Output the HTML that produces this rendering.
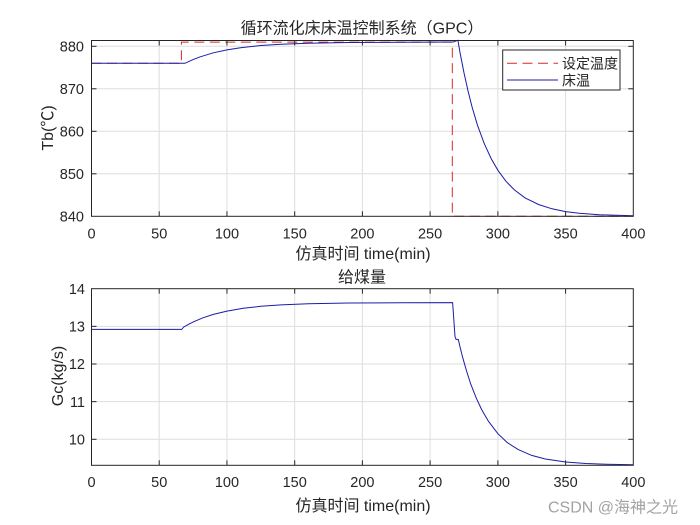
<!DOCTYPE html>
<html>
<head>
<meta charset="utf-8">
<style>
html,body{margin:0;padding:0;background:#fff;}
svg{display:block;}
text{font-family:"Liberation Sans","Noto Sans CJK SC",sans-serif;fill:#262626;}
</style>
</head>
<body>
<svg width="700" height="525" viewBox="0 0 700 525" xmlns="http://www.w3.org/2000/svg">
<rect x="0" y="0" width="700" height="525" fill="#fff"/>

<!-- ===== TOP AXES ===== -->
<g stroke="#dedede" stroke-width="1" fill="none">
  <line x1="159.2" y1="40.5" x2="159.2" y2="216.3"/>
  <line x1="226.95" y1="40.5" x2="226.95" y2="216.3"/>
  <line x1="294.7" y1="40.5" x2="294.7" y2="216.3"/>
  <line x1="362.4" y1="40.5" x2="362.4" y2="216.3"/>
  <line x1="430.1" y1="40.5" x2="430.1" y2="216.3"/>
  <line x1="497.9" y1="40.5" x2="497.9" y2="216.3"/>
  <line x1="565.6" y1="40.5" x2="565.6" y2="216.3"/>
  <line x1="91.5" y1="173.8" x2="633.3" y2="173.8"/>
  <line x1="91.5" y1="131.3" x2="633.3" y2="131.3"/>
  <line x1="91.5" y1="88.8" x2="633.3" y2="88.8"/>
  <line x1="91.5" y1="46.3" x2="633.3" y2="46.3"/>
</g>

<!-- setpoint -->
<polyline fill="none" stroke="#d42a2a" stroke-width="1" stroke-dasharray="10 5.5"
  points="91.5,63.3 181.4,63.3 181.4,42.1 452.3,42.1 452.3,216.3 633.3,216.3"/>
<!-- temperature -->
<polyline fill="none" stroke="#1c1ca8" stroke-width="1"
  points="91.5,63.3 184.96,63.3 193.09,59.56 199.86,56.93 213.4,52.8 226.95,49.87 240.5,47.7 260.8,45.54 281.1,44.2 308.2,43.2 348.9,42.5 403.0,42.2 453.1,42.05 457.9,40.3 459.9,52.0 464.0,72.9 468.1,91.2 472.1,107.1 477.5,125.3 484.3,143.7 491.1,158.5 497.9,170.3 506.0,181.3 514.1,189.6 524.9,197.8 538.5,204.5 552.0,208.8 565.6,211.6 579.1,213.3 599.4,214.8 633.3,215.8"/>

<!-- ticks top axes -->
<g stroke="#262626" stroke-width="1">
  <line x1="159.2" y1="216.3" x2="159.2" y2="211.3"/><line x1="159.2" y1="40.5" x2="159.2" y2="45.5"/>
  <line x1="226.95" y1="216.3" x2="226.95" y2="211.3"/><line x1="226.95" y1="40.5" x2="226.95" y2="45.5"/>
  <line x1="294.7" y1="216.3" x2="294.7" y2="211.3"/><line x1="294.7" y1="40.5" x2="294.7" y2="45.5"/>
  <line x1="362.4" y1="216.3" x2="362.4" y2="211.3"/><line x1="362.4" y1="40.5" x2="362.4" y2="45.5"/>
  <line x1="430.1" y1="216.3" x2="430.1" y2="211.3"/><line x1="430.1" y1="40.5" x2="430.1" y2="45.5"/>
  <line x1="497.9" y1="216.3" x2="497.9" y2="211.3"/><line x1="497.9" y1="40.5" x2="497.9" y2="45.5"/>
  <line x1="565.6" y1="216.3" x2="565.6" y2="211.3"/><line x1="565.6" y1="40.5" x2="565.6" y2="45.5"/>
  <line x1="91.5" y1="173.8" x2="96.5" y2="173.8"/><line x1="633.3" y1="173.8" x2="628.3" y2="173.8"/>
  <line x1="91.5" y1="131.3" x2="96.5" y2="131.3"/><line x1="633.3" y1="131.3" x2="628.3" y2="131.3"/>
  <line x1="91.5" y1="88.8" x2="96.5" y2="88.8"/><line x1="633.3" y1="88.8" x2="628.3" y2="88.8"/>
  <line x1="91.5" y1="46.3" x2="96.5" y2="46.3"/><line x1="633.3" y1="46.3" x2="628.3" y2="46.3"/>
</g>
<rect x="91.5" y="40.5" width="541.8" height="175.8" fill="none" stroke="#262626" stroke-width="1"/>

<!-- legend -->
<rect x="502.7" y="50" width="117.3" height="40" fill="#fff" stroke="#262626" stroke-width="1"/>
<line x1="507" y1="63.3" x2="558" y2="63.3" stroke="#d42a2a" stroke-width="1" stroke-dasharray="10 5.5"/>
<line x1="507" y1="80" x2="558" y2="80" stroke="#1c1ca8" stroke-width="1"/>
<text x="562" y="68.5" font-size="14">设定温度</text>
<text x="562" y="85.5" font-size="14">床温</text>

<!-- top tick labels -->
<g font-size="14.5" text-anchor="middle">
  <text x="91.5" y="238.5">0</text>
  <text x="159.2" y="238.5">50</text>
  <text x="226.95" y="238.5">100</text>
  <text x="294.7" y="238.5">150</text>
  <text x="362.4" y="238.5">200</text>
  <text x="430.1" y="238.5">250</text>
  <text x="497.9" y="238.5">300</text>
  <text x="565.6" y="238.5">350</text>
  <text x="633.3" y="238.5">400</text>
</g>
<g font-size="14.5" text-anchor="end">
  <text x="84" y="221.5">840</text>
  <text x="84" y="179">850</text>
  <text x="84" y="136.5">860</text>
  <text x="84" y="94">870</text>
  <text x="84" y="51.5">880</text>
</g>
<text x="362" y="33.5" font-size="16" text-anchor="middle">循环流化床床温控制系统（GPC）</text>
<text x="363" y="259" font-size="16" text-anchor="middle">仿真时间 time(min)</text>
<text transform="translate(53,128) rotate(-90)" font-size="16" text-anchor="middle">Tb(℃)</text>

<!-- ===== BOTTOM AXES ===== -->
<g stroke="#dedede" stroke-width="1" fill="none">
  <line x1="159.2" y1="288.7" x2="159.2" y2="465.3"/>
  <line x1="226.95" y1="288.7" x2="226.95" y2="465.3"/>
  <line x1="294.7" y1="288.7" x2="294.7" y2="465.3"/>
  <line x1="362.4" y1="288.7" x2="362.4" y2="465.3"/>
  <line x1="430.1" y1="288.7" x2="430.1" y2="465.3"/>
  <line x1="497.9" y1="288.7" x2="497.9" y2="465.3"/>
  <line x1="565.6" y1="288.7" x2="565.6" y2="465.3"/>
  <line x1="91.5" y1="439.3" x2="633.3" y2="439.3"/>
  <line x1="91.5" y1="401.65" x2="633.3" y2="401.65"/>
  <line x1="91.5" y1="364.0" x2="633.3" y2="364.0"/>
  <line x1="91.5" y1="326.35" x2="633.3" y2="326.35"/>
</g>

<polyline fill="none" stroke="#1c1ca8" stroke-width="1"
  points="91.5,329.4 181.7,329.4 183.6,327.1 189.0,324.05 194.4,321.4 202.6,317.96 213.4,314.4 227.0,311.1 243.2,308.3 260.8,306.3 281.1,304.9 308.2,303.8 348.9,303.0 403.0,302.7 452.6,302.6 453.5,315 455,336.7 456,339.3 458.3,339.5 459.9,346.4 462.6,357.2 466.7,371.5 470.7,383.9 476.2,397.9 481.6,409.5 488.4,421.2 497.9,433.7 507.3,442.6 518.2,449.6 531.7,455.4 545.3,459.0 565.6,462.0 585.9,463.5 606.2,464.2 633.3,464.7"/>

<g stroke="#262626" stroke-width="1">
  <line x1="159.2" y1="465.3" x2="159.2" y2="460.3"/><line x1="159.2" y1="288.7" x2="159.2" y2="293.7"/>
  <line x1="226.95" y1="465.3" x2="226.95" y2="460.3"/><line x1="226.95" y1="288.7" x2="226.95" y2="293.7"/>
  <line x1="294.7" y1="465.3" x2="294.7" y2="460.3"/><line x1="294.7" y1="288.7" x2="294.7" y2="293.7"/>
  <line x1="362.4" y1="465.3" x2="362.4" y2="460.3"/><line x1="362.4" y1="288.7" x2="362.4" y2="293.7"/>
  <line x1="430.1" y1="465.3" x2="430.1" y2="460.3"/><line x1="430.1" y1="288.7" x2="430.1" y2="293.7"/>
  <line x1="497.9" y1="465.3" x2="497.9" y2="460.3"/><line x1="497.9" y1="288.7" x2="497.9" y2="293.7"/>
  <line x1="565.6" y1="465.3" x2="565.6" y2="460.3"/><line x1="565.6" y1="288.7" x2="565.6" y2="293.7"/>
  <line x1="91.5" y1="439.3" x2="96.5" y2="439.3"/><line x1="633.3" y1="439.3" x2="628.3" y2="439.3"/>
  <line x1="91.5" y1="401.65" x2="96.5" y2="401.65"/><line x1="633.3" y1="401.65" x2="628.3" y2="401.65"/>
  <line x1="91.5" y1="364.0" x2="96.5" y2="364.0"/><line x1="633.3" y1="364.0" x2="628.3" y2="364.0"/>
  <line x1="91.5" y1="326.35" x2="96.5" y2="326.35"/><line x1="633.3" y1="326.35" x2="628.3" y2="326.35"/>
</g>
<rect x="91.5" y="288.7" width="541.8" height="176.6" fill="none" stroke="#262626" stroke-width="1"/>

<g font-size="14.5" text-anchor="middle">
  <text x="91.5" y="487">0</text>
  <text x="159.2" y="487">50</text>
  <text x="226.95" y="487">100</text>
  <text x="294.7" y="487">150</text>
  <text x="362.4" y="487">200</text>
  <text x="430.1" y="487">250</text>
  <text x="497.9" y="487">300</text>
  <text x="565.6" y="487">350</text>
  <text x="633.3" y="487">400</text>
</g>
<g font-size="14.5" text-anchor="end">
  <text x="85" y="444.5">10</text>
  <text x="85" y="407">11</text>
  <text x="85" y="369.2">12</text>
  <text x="85" y="331.5">13</text>
  <text x="85" y="294">14</text>
</g>
<text x="362" y="282.5" font-size="16" text-anchor="middle">给煤量</text>
<text x="363" y="511" font-size="16" text-anchor="middle">仿真时间 time(min)</text>
<text transform="translate(63,376) rotate(-90)" font-size="16" text-anchor="middle">Gc(kg/s)</text>

<!-- watermark -->
<text x="548" y="512.5" font-size="16" style="fill:#a3a3a3">CSDN @海神之光</text>
</svg>
</body>
</html>
